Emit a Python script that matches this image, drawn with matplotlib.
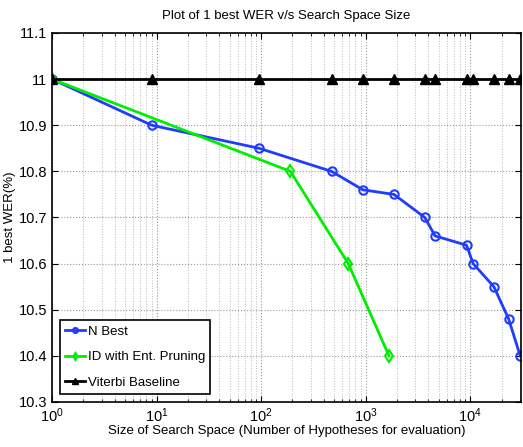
import matplotlib
matplotlib.use('Agg')
import matplotlib.pyplot as plt
from matplotlib.ticker import LogLocator, NullFormatter, FixedLocator

plt.rcParams['font.family'] = ['Liberation Sans', 'DejaVu Sans']

# search space sizes (hypotheses) and 1-best WER
nbest_x = [1, 9, 96, 473, 944, 1872, 3690, 4630, 9250, 10700, 16900, 23400, 30200]
nbest_y = [11.0, 10.9, 10.85, 10.8, 10.76, 10.75, 10.7, 10.66, 10.64, 10.6, 10.55, 10.48, 10.4]
id_x = [1, 191, 684, 1676]
id_y = [11.0, 10.8, 10.6, 10.4]
vit_x = nbest_x
vit_y = [11.0] * len(vit_x)

fig = plt.figure(figsize=(5.23, 4.47), dpi=100)
ax = fig.add_axes([0.0994, 0.1007, 0.8967, 0.8255])

ax.semilogx(nbest_x, nbest_y, '-o', color='#1f3cff', lw=2, ms=6, mfc='none', mew=1.5, label='N Best')
ax.semilogx(id_x, id_y, '-d', color='#00ee00', lw=2, ms=6, mfc='none', mew=1.5, label='ID with Ent. Pruning')
ax.semilogx(vit_x, vit_y, '-^', color='black', lw=2, ms=7, label='Viterbi Baseline')

ax.set_xlim(1, 30700)
ax.set_ylim(10.3, 11.1)
ax.yaxis.set_major_locator(FixedLocator([10.3, 10.4, 10.5, 10.6, 10.7, 10.8, 10.9, 11.0, 11.1]))
ax.set_yticklabels(['10.3', '10.4', '10.5', '10.6', '10.7', '10.8', '10.9', '11', '11.1'])
ax.xaxis.set_major_locator(LogLocator(base=10, numticks=10))
ax.xaxis.set_minor_locator(LogLocator(base=10, subs=range(2, 10), numticks=20))
ax.xaxis.set_minor_formatter(NullFormatter())

ax.grid(True, which='major', ls=':', color='#999999', lw=0.8)
ax.grid(True, which='minor', axis='x', ls=':', color='#bbbbbb', lw=0.7)
ax.tick_params(which='both', direction='in', top=True, right=True, labelsize=10.5)
ax.tick_params(which='major', length=4)
ax.tick_params(which='minor', length=2)
for s in ax.spines.values():
    s.set_linewidth(1.2)

ax.set_title('Plot of 1 best WER v/s Search Space Size', fontsize=9.5, pad=10)
ax.set_xlabel('Size of Search Space (Number of Hypotheses for evaluation)', fontsize=9.5, labelpad=0)
ax.set_ylabel('1 best WER(%)', fontsize=9.5, labelpad=2)

leg = ax.legend(loc='lower left', fontsize=9.5, fancybox=False, edgecolor='black',
                framealpha=1, markerscale=0.6, handlelength=1.5, handletextpad=0.2,
                borderaxespad=0.6, borderpad=0.4, labelspacing=1.0)
leg.get_frame().set_linewidth(1.2)

fig.savefig('out.png', dpi=100)
